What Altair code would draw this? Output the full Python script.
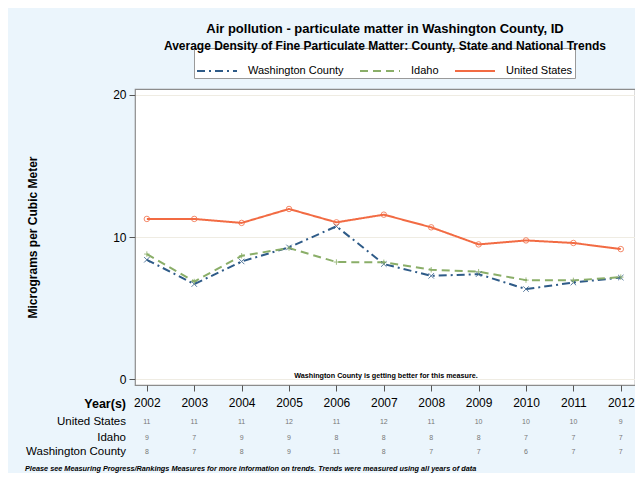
import altair as alt
import pandas as pd

years = [2002, 2003, 2004, 2005, 2006, 2007, 2008, 2009, 2010, 2011, 2012]
series_names = ["Washington County", "Idaho", "United States"]
wc_vals = [8.40, 6.69, 8.28, 9.27, 10.75, 8.10, 7.27, 7.39, 6.34, 6.80, 7.15]
idaho_vals = [8.80, 6.87, 8.68, 9.22, 8.24, 8.22, 7.70, 7.56, 6.97, 6.95, 7.18]
us_vals = [11.27, 11.27, 10.99, 11.97, 11.03, 11.57, 10.68, 9.48, 9.76, 9.58, 9.15]

table_us = [11, 11, 11, 12, 11, 12, 11, 10, 10, 10, 9]
table_idaho = [9, 7, 9, 9, 8, 8, 8, 8, 7, 7, 7]
table_wc = [8, 7, 8, 9, 11, 8, 7, 7, 6, 7, 7]

colors = ["#2E5B88", "#8AAE68", "#F26B43"]
dashes = [[8, 4, 2, 4], [8, 5], [1, 0]]
shapes = ["M-1,-1L1,1M1,-1L-1,1", "M-1,0L1,0M0,-1L0,1", "circle"]

rows = []
for name, vals in zip(series_names, [wc_vals, idaho_vals, us_vals]):
    for y, v in zip(years, vals):
        rows.append({"year": y, "series": name, "value": v})
df = pd.DataFrame(rows)

FONT = "Liberation Sans"

x_enc = alt.X("year:Q", scale=alt.Scale(domain=[2001.75, 2012.3], nice=False, zero=False),
              axis=alt.Axis(values=years, format="d", tickSize=6, labelFontSize=12, grid=False,
                            domain=False, labelPadding=6, tickColor="#555", labelColor="black",
                            labelFont=FONT),
              title=None)
y_enc = alt.Y("value:Q", scale=alt.Scale(domain=[-0.4, 20.4], nice=False, zero=False),
              axis=alt.Axis(values=[0, 10, 20], tickSize=6, labelFontSize=12, grid=True,
                            gridColor="#EFECE3", domain=False, labelPadding=3, tickColor="#555",
                            labelColor="black", labelFont=FONT,
                            titleFontSize=12, titleFontWeight="bold", titleFont=FONT,
                            titleX=-103, titleY=148, titleAlign="center", titleBaseline="middle",
                            titleColor="black"),
              title="Micrograms per Cubic Meter")

color_enc = alt.Color("series:N", scale=alt.Scale(domain=series_names, range=colors),
                      legend=alt.Legend(orient="none", legendX=59, legendY=-41, direction="horizontal",
                                        symbolType="stroke", symbolSize=1600, symbolStrokeWidth=2,
                                        labelFontSize=11, labelFont=FONT, labelOffset=10,
                                        columnPadding=12, padding=2, fillColor="white",
                                        strokeColor="#9a9a9a", labelColor="black"),
                      title=None)
dash_enc = alt.StrokeDash("series:N", scale=alt.Scale(domain=series_names, range=dashes), title=None)

base = alt.Chart(df)
lines = base.mark_line(strokeWidth=2).encode(x=x_enc, y=y_enc, color=color_enc, strokeDash=dash_enc)

point_layers = []
for name, col, shp in zip(series_names, colors, shapes):
    point_layers.append(
        base.transform_filter(alt.datum.series == name)
        .mark_point(filled=False, size=30, strokeWidth=1, color=col, shape=shp, opacity=0.8)
        .encode(x="year:Q", y="value:Q")
    )

one = pd.DataFrame({"k": [0]})
annot = alt.Chart(one).mark_text(text="Washington County is getting better for this measure.",
                                 font=FONT, fontSize=7.2, fontWeight="bold", color="black",
                                 align="center", baseline="middle").encode(
    x=alt.value(251), y=alt.value(287))

year_lbl = alt.Chart(one).mark_text(text="Year(s)", font=FONT, fontSize=12.5, fontWeight="bold",
                                    color="black", align="right", baseline="middle").encode(
    x=alt.value(-9), y=alt.value(315))

row_layers = []
for name, vals, yy in zip(["United States", "Idaho", "Washington County"],
                          [table_us, table_idaho, table_wc], [333, 349, 363]):
    row_layers.append(alt.Chart(one).mark_text(text=name, font=FONT, fontSize=11.5, color="black",
                                               align="right", baseline="middle").encode(
        x=alt.value(-9), y=alt.value(yy)))
    tdf = pd.DataFrame({"year": years, "v": vals})
    row_layers.append(alt.Chart(tdf).mark_text(font=FONT, fontSize=7, color="#777777",
                                               align="center", baseline="middle").encode(
        x="year:Q", y=alt.value(yy), text="v:Q"))

foot = alt.Chart(one).mark_text(
    text="Please see Measuring Progress/Rankings Measures for more information on trends. Trends were measured using all years of data",
    font=FONT, fontSize=7.3, fontWeight="bold", fontStyle="italic", color="black",
    align="left", baseline="middle").encode(x=alt.value(-110), y=alt.value(380))

chart = alt.layer(lines, *point_layers, annot, year_lbl, *row_layers, foot).properties(
    width=500, height=296,
    autosize="none",
    padding={"left": 127, "top": 81, "right": 0, "bottom": 88},
    background="#EBF5FC",
    title=alt.TitleParams(text="Air pollution - particulate matter in Washington County, ID",
                          subtitle="Average Density of Fine Particulate Matter: County, State and National Trends",
                          anchor="middle", font=FONT, fontSize=13, fontWeight="bold", color="black",
                          subtitleFont=FONT, subtitleFontSize=12, subtitleFontWeight="bold",
                          subtitleColor="black", subtitlePadding=5, offset=-4),
).configure_view(fill="white", stroke="#8c8c8c", strokeWidth=1.2)

chart.save("out.html", embed_options={"renderer": "svg", "actions": False})
